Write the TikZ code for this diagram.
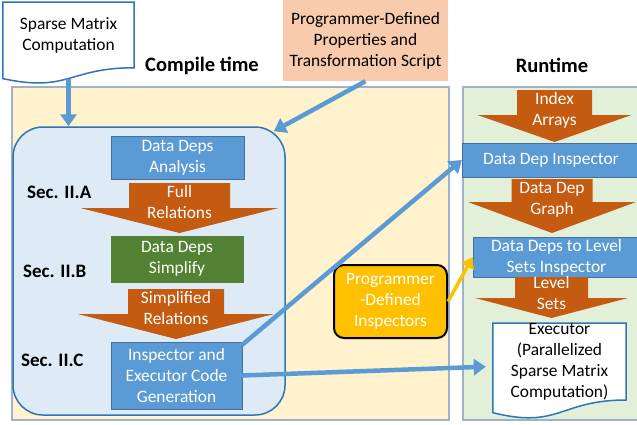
\documentclass[tikz,border=0pt]{standalone}
\usepackage{fontspec}
\setmainfont{Carlito}
\usetikzlibrary{positioning,arrows.meta,calc}

\definecolor{boxblue}{HTML}{5B9BD5}
\definecolor{boxline}{HTML}{41719C}
\definecolor{linkblue}{HTML}{5B9BD5}
\definecolor{relorange}{HTML}{C55A11}
\definecolor{simpgreen}{HTML}{548235}
\definecolor{compfill}{HTML}{FFF2CC}
\definecolor{runfill}{HTML}{E2F0D9}
\definecolor{regionline}{HTML}{9DB3CB}
\definecolor{secfill}{HTML}{DEEBF7}
\definecolor{secline}{HTML}{2E75B6}
\definecolor{userfill}{HTML}{F8CBAD}
\definecolor{inspfill}{HTML}{FFC000}

\pgfdeclarelayer{back}
\pgfdeclarelayer{mid}
\pgfsetlayers{back,mid,main}

% document shape under node #1, #2 = full height of the shape
\newcommand{\docwave}[2]{%
  \begin{pgfonlayer}{mid}
    \draw[docline] (#1.north west) -- (#1.north east) -- ($(#1.north east)+(0,0.802*#2)$)
      .. controls ($(#1.north)+(0,0.802*#2)$) and ($(#1.north)+(0,1.1075*#2)$)
      .. ($(#1.north west)+(0,0.934*#2)$) -- cycle;
  \end{pgfonlayer}}

% down block arrow: name, x, top, shaft half width, head half width, head y, tip y, text
\newcommand{\blockarrow}[8]{%
  \fill[relorange] ({#2-#4},#3) -- ({#2+#4},#3) -- ({#2+#4},#6) -- ({#2+#5},#6) -- (#2,#7)
    -- ({#2-#5},#6) -- ({#2-#4},#6) -- cycle;
  \node[reltext] (#1) at (#2,{#3+0.39*(#7-#3)}) {#8};}

\begin{document}
\begin{tikzpicture}[x=1pt,y=-1pt,
    font=\fontsize{17.4}{21}\selectfont,
    region/.style={draw=regionline,line width=1.5pt,anchor=north west,inner sep=0pt},
    stepbox/.style={draw=boxline,fill=boxblue,text=white,align=center,inner sep=0pt},
    reltext/.style={text=white,align=center,inner sep=0pt},
    doctext/.style={align=center,inner sep=0pt,anchor=north},
    docline/.style={draw=secline,line width=1.5pt,fill=white},
    title/.style={font=\fontsize{20.5}{24}\selectfont\bfseries},
    sec/.style={font=\fontsize{19}{23}\selectfont\bfseries,anchor=west,inner sep=0pt},
    link/.style={draw=linkblue,line width=4.5pt,-{Triangle[length=12pt,width=16pt]}},
    userlink/.style={draw=inspfill,line width=3.5pt,-{Triangle[length=11pt,width=14pt]}},
  ]
    \useasboundingbox (0,0) rectangle (637,424);

    % time regions
    \begin{pgfonlayer}{back}
      \node[region,fill=compfill,minimum width=437pt,minimum height=333pt] (compile) at (11,86) {};
      \node[region,fill=runfill,minimum width=180pt,minimum height=333pt] (runtime) at (462,86) {};
    \end{pgfonlayer}
    \node[title] (ctitle) at (202,66) {Compile time};
    \node[title] (rtitle) at (552,65) {Runtime};

    % inputs
    \node[doctext,minimum width=131pt,minimum height=65.6pt] (smc) at (68.5,2) {Sparse Matrix\\Computation};
    \docwave{smc}{82}
    \node[fill=userfill,align=center,minimum width=165pt,minimum height=81pt,inner sep=0pt] (script) at (365.5,40.5)
      {Programmer-Defined\\Properties and\\Transformation Script};

    % compile time steps
    \node[draw=secline,fill=secfill,line width=1.5pt,rounded corners=30pt,minimum width=272pt,minimum height=288pt] (cbox) at (149,271) {};
    \node[stepbox,minimum width=133pt,minimum height=43pt] (analysis) at (177.5,157.5) {Data Deps\\Analysis};
    \blockarrow{fullrel}{179.5}{183}{50.5}{99}{208}{233}{Full\\Relations}
    \node[stepbox,draw=simpgreen,fill=simpgreen,minimum width=132pt,minimum height=46pt] (simplify) at (177,259) {Data Deps\\Simplify};
    \blockarrow{simprel}{176}{289}{48}{98}{314}{339}{Simplified\\Relations}
    \node[stepbox,minimum width=131pt,minimum height=67pt] (codegen) at (176.5,375.5) {Inspector and\\Executor Code\\Generation};
    \node[sec] (seca) at (27,192) {Sec. II.A};
    \node[sec] (secb) at (23,271) {Sec. II.B};
    \node[sec] (secc) at (21,360) {Sec. II.C};

    % runtime steps
    \blockarrow{index}{554.5}{90}{37.5}{77}{115}{142}{Index\\Arrays}
    \node[stepbox,minimum width=178pt,minimum height=34pt] (inspector) at (551,160) {Data Dep Inspector};
    \blockarrow{depgraph}{552}{179}{40.5}{84}{202}{233}{Data Dep\\Graph}
    \node[stepbox,minimum width=167pt,minimum height=40pt] (levelinsp) at (556.5,257) {Data Deps to Level\\Sets Inspector};
    \blockarrow{levels}{551.5}{277}{36.5}{76.5}{298}{318}{Level\\Sets}
    \node[doctext,minimum width=133pt,minimum height=76.8pt] (executor) at (559.5,323)
      {Executor\\(Parallelized\\Sparse Matrix\\Computation)};
    \docwave{executor}{96}

    \node[draw=black,line width=2pt,fill=inspfill,text=white,rounded corners=10pt,align=center,
      minimum width=113pt,minimum height=73pt,inner sep=0pt] (userinsp) at (390.5,301.5)
      {Programmer\\-Defined\\Inspectors};

    % connectors
    \draw[link] ([yshift=-11pt]smc.south) -- (smc.south |- cbox.north);
    \draw[link] (script.south) -- ([xshift=-12pt,yshift=-5pt]cbox.north east);
    \draw[link] ([yshift=-3pt]codegen.north east) -- (inspector.west);
    \draw[link] (codegen.east) -- ([xshift=-7pt,yshift=-5pt]executor.west);
    \draw[userlink] (userinsp.east) -- (levelinsp.west);
  \end{tikzpicture}
\end{document}
